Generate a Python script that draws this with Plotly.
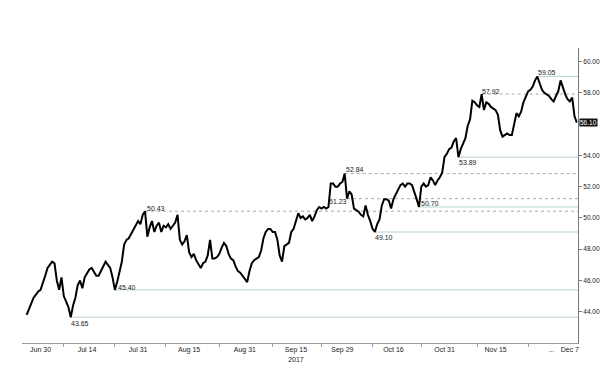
import pandas as pd
import plotly.graph_objects as go

# ---- data ----
start_day = "2017-06-27"
end_day = "2017-12-08"

# price, two readings per trading day (00:00 and 12:00)
price = [
    43.8, 44.2, 44.5, 44.9, 45.1, 45.3, 45.4, 45.8, 46.3, 46.8,
    47.0, 47.2, 47.1, 46.0, 45.4, 46.2, 45.0, 44.6, 44.3, 43.65,
    44.4, 44.9, 45.7, 46.0, 45.5, 46.2, 46.5, 46.7, 46.8, 46.5,
    46.3, 46.3, 46.6, 46.8, 47.2, 47.0, 46.8, 46.2, 45.4, 45.9,
    46.6, 47.2, 48.3, 48.6, 48.7, 49.0, 49.2, 49.5, 49.8, 49.6,
    50.2, 50.43, 48.8, 49.4, 49.8, 49.1, 49.5, 49.7, 49.1, 49.5,
    49.4, 49.6, 49.3, 49.5, 49.7, 50.2, 48.6, 48.3, 48.5, 48.9,
    47.8, 47.5, 47.7, 47.3, 47.0, 46.8, 47.1, 47.2, 47.6, 48.6,
    47.4, 47.4, 47.5, 47.7, 48.1, 48.4, 48.2, 47.7, 47.4, 47.3,
    46.9, 46.6, 46.5, 46.3, 46.1, 45.9, 46.6, 47.1, 47.3, 47.4,
    47.5, 47.9, 48.7, 49.1, 49.3, 49.3, 49.1, 49.1, 48.6, 47.6,
    47.2, 48.2, 48.3, 48.4, 49.1, 49.3, 49.8, 50.3, 50.0, 50.1,
    49.9, 50.0, 50.2, 49.8, 50.1, 50.5, 50.7, 50.6, 50.7, 50.6,
    50.7, 52.2, 52.2, 52.0, 52.0, 52.2, 52.3, 52.84, 51.23, 51.7,
    51.5, 50.6, 50.5, 50.4, 50.2, 50.1, 50.8, 50.2, 49.8, 49.3,
    49.10, 49.6, 49.9, 50.8, 51.2, 51.2, 51.1, 50.6, 51.2, 51.5,
    51.9, 52.1, 52.2, 52.0, 52.2, 52.2, 52.1, 51.7, 51.2, 50.70,
    52.0, 52.2, 52.0, 52.1, 52.6, 52.4, 52.1, 52.4, 52.6, 52.9,
    53.9, 54.1, 54.4, 54.5, 54.9, 55.1, 53.89, 54.4, 54.7, 55.1,
    55.9, 56.3, 57.5, 57.4, 57.2, 57.1, 57.92, 56.9, 57.4, 57.3,
    57.1, 57.0, 56.9, 56.6, 55.6, 55.2, 55.3, 55.4, 55.3, 55.3,
    56.0, 56.7, 56.5, 56.8, 57.4, 57.8, 58.1, 58.2, 58.4, 58.8,
    59.05, 58.6, 58.2, 58.0, 57.9, 57.8, 57.6, 57.45, 57.8, 58.1,
    58.8, 58.3, 57.9, 57.6, 57.45, 57.7, 56.5, 56.1,
]

# support / resistance levels
solid_levels = [43.65, 45.40, 49.10, 50.70, 53.89, 59.05]
solid_dates = ["2017-07-10 12:00", "2017-07-24 00:00", "2017-10-10 00:00",
               "2017-10-23 12:00", "2017-11-03 00:00", "2017-11-28 00:00"]
dashed_levels = [50.43, 52.84, 51.23, 57.92]
dashed_dates = ["2017-08-01 12:00", "2017-09-29 12:00", "2017-10-02 00:00",
                "2017-11-10 00:00"]

# x-axis labels
tick_dates = ["2017-06-30", "2017-07-14", "2017-07-31", "2017-08-15",
              "2017-08-31", "2017-09-15", "2017-09-29", "2017-10-16",
              "2017-10-31", "2017-11-15", "2017-12-01", "2017-12-07"]
tick_text = ["Jun 30", "Jul 14", "Jul 31", "Aug 15", "Aug 31",
             "Sep 15<br>2017", "Sep 29", "Oct 16", "Oct 31", "Nov 15",
             "...", "Dec 7"]
minor_dates = ["2017-07-07", "2017-07-24", "2017-08-08", "2017-08-23 12:00",
               "2017-09-08", "2017-09-22 12:00", "2017-10-09 12:00",
               "2017-10-24", "2017-11-09", "2017-11-24"]
y_ticks = [44, 46, 48, 50, 52, 54, 56, 58, 60]
# the 56.00 label sits under the last-price box in the reference
y_tick_text = ["44.00", "46.00", "48.00", "50.00", "52.00", "54.00", "", "58.00", "60.00"]

# ---- build ----
days = pd.bdate_range(start_day, end_day)
times = []
for d in days:
    times.append(d)
    times.append(d + pd.Timedelta(hours=12))
assert len(times) == len(price), (len(times), len(price))

x_start = pd.Timestamp("2017-06-26 00:00")
x_end = pd.Timestamp("2017-12-08 18:00")

fig = go.Figure()

SOLID_C = "#b3d4cf"
DASH_C = "#a8a8a8"
TXT = "#222222"
FONT = "Liberation Sans"

for lv, dt in zip(solid_levels, solid_dates):
    fig.add_trace(go.Scatter(x=[pd.Timestamp(dt), x_end], y=[lv, lv], mode="lines",
                             line=dict(color=SOLID_C, width=1), hoverinfo="skip",
                             showlegend=False))
for lv, dt in zip(dashed_levels, dashed_dates):
    fig.add_trace(go.Scatter(x=[pd.Timestamp(dt), x_end], y=[lv, lv], mode="lines",
                             line=dict(color=DASH_C, width=1, dash="3px,3px"),
                             hoverinfo="skip", showlegend=False))

fig.add_trace(go.Scatter(x=times, y=price, mode="lines",
                         line=dict(color="#000000", width=2.0),
                         showlegend=False))

# level labels: (xanchor, xshift, yshift)
label_style = {
    43.65: ("left", -2, -6),
    45.40: ("left", 1, 2),
    49.10: ("left", -2, -5),
    50.70: ("left", 0, 3),
    53.89: ("left", -1, -5),
    59.05: ("left", -1, 4),
    50.43: ("left", 0, 3),
    52.84: ("left", -1, 4),
    51.23: ("right", 2, -3),
    57.92: ("left", -2, 3),
}
for lv, dt in list(zip(solid_levels, solid_dates)) + list(zip(dashed_levels, dashed_dates)):
    xa, xs, ys = label_style[lv]
    fig.add_annotation(x=pd.Timestamp(dt), y=lv, text=f"{lv:.2f}", showarrow=False,
                       xanchor=xa, yanchor="middle", xshift=xs, yshift=ys,
                       font=dict(size=7, color=TXT, family=FONT))

# last price box
fig.add_annotation(xref="paper", x=1.0, y=price[-1], text=f"{price[-1]:.2f}",
                   showarrow=False, xanchor="left", yanchor="middle", xshift=1,
                   bgcolor="#111111", borderpad=0,
                   font=dict(size=6.5, color="#ffffff", family=FONT))

fig.update_layout(
    width=600, height=366,
    margin=dict(l=22, r=22, t=48, b=23, autoexpand=False),
    paper_bgcolor="white", plot_bgcolor="white",
    showlegend=False,
    font=dict(family=FONT, size=7, color=TXT),
)
fig.update_xaxes(
    range=[x_start, x_end], automargin=False,
    rangebreaks=[dict(bounds=["sat", "mon"])],
    tickmode="array", tickvals=[pd.Timestamp(t) for t in tick_dates], ticktext=tick_text,
    ticks="", showgrid=False, zeroline=False,
    showline=True, linecolor="#9a9a9a", linewidth=1,
    tickfont=dict(size=7, color=TXT),
    minor=dict(tickmode="array", tickvals=[pd.Timestamp(t) for t in minor_dates],
               ticks="outside", ticklen=3, tickcolor="#9a9a9a", showgrid=False),
)
fig.update_yaxes(
    side="right", range=[42.0, 60.87], automargin=False,
    tickmode="array", tickvals=y_ticks, ticktext=y_tick_text,
    ticks="outside", ticklen=3, tickcolor="#777777",
    showgrid=False, zeroline=False,
    showline=True, linecolor="#777777", linewidth=1,
    tickfont=dict(size=6.5, color=TXT),
)

fig.write_html("out.html", config={"displayModeBar": False},
               post_script="document.body.style.margin='0';document.body.style.overflow='hidden';")
